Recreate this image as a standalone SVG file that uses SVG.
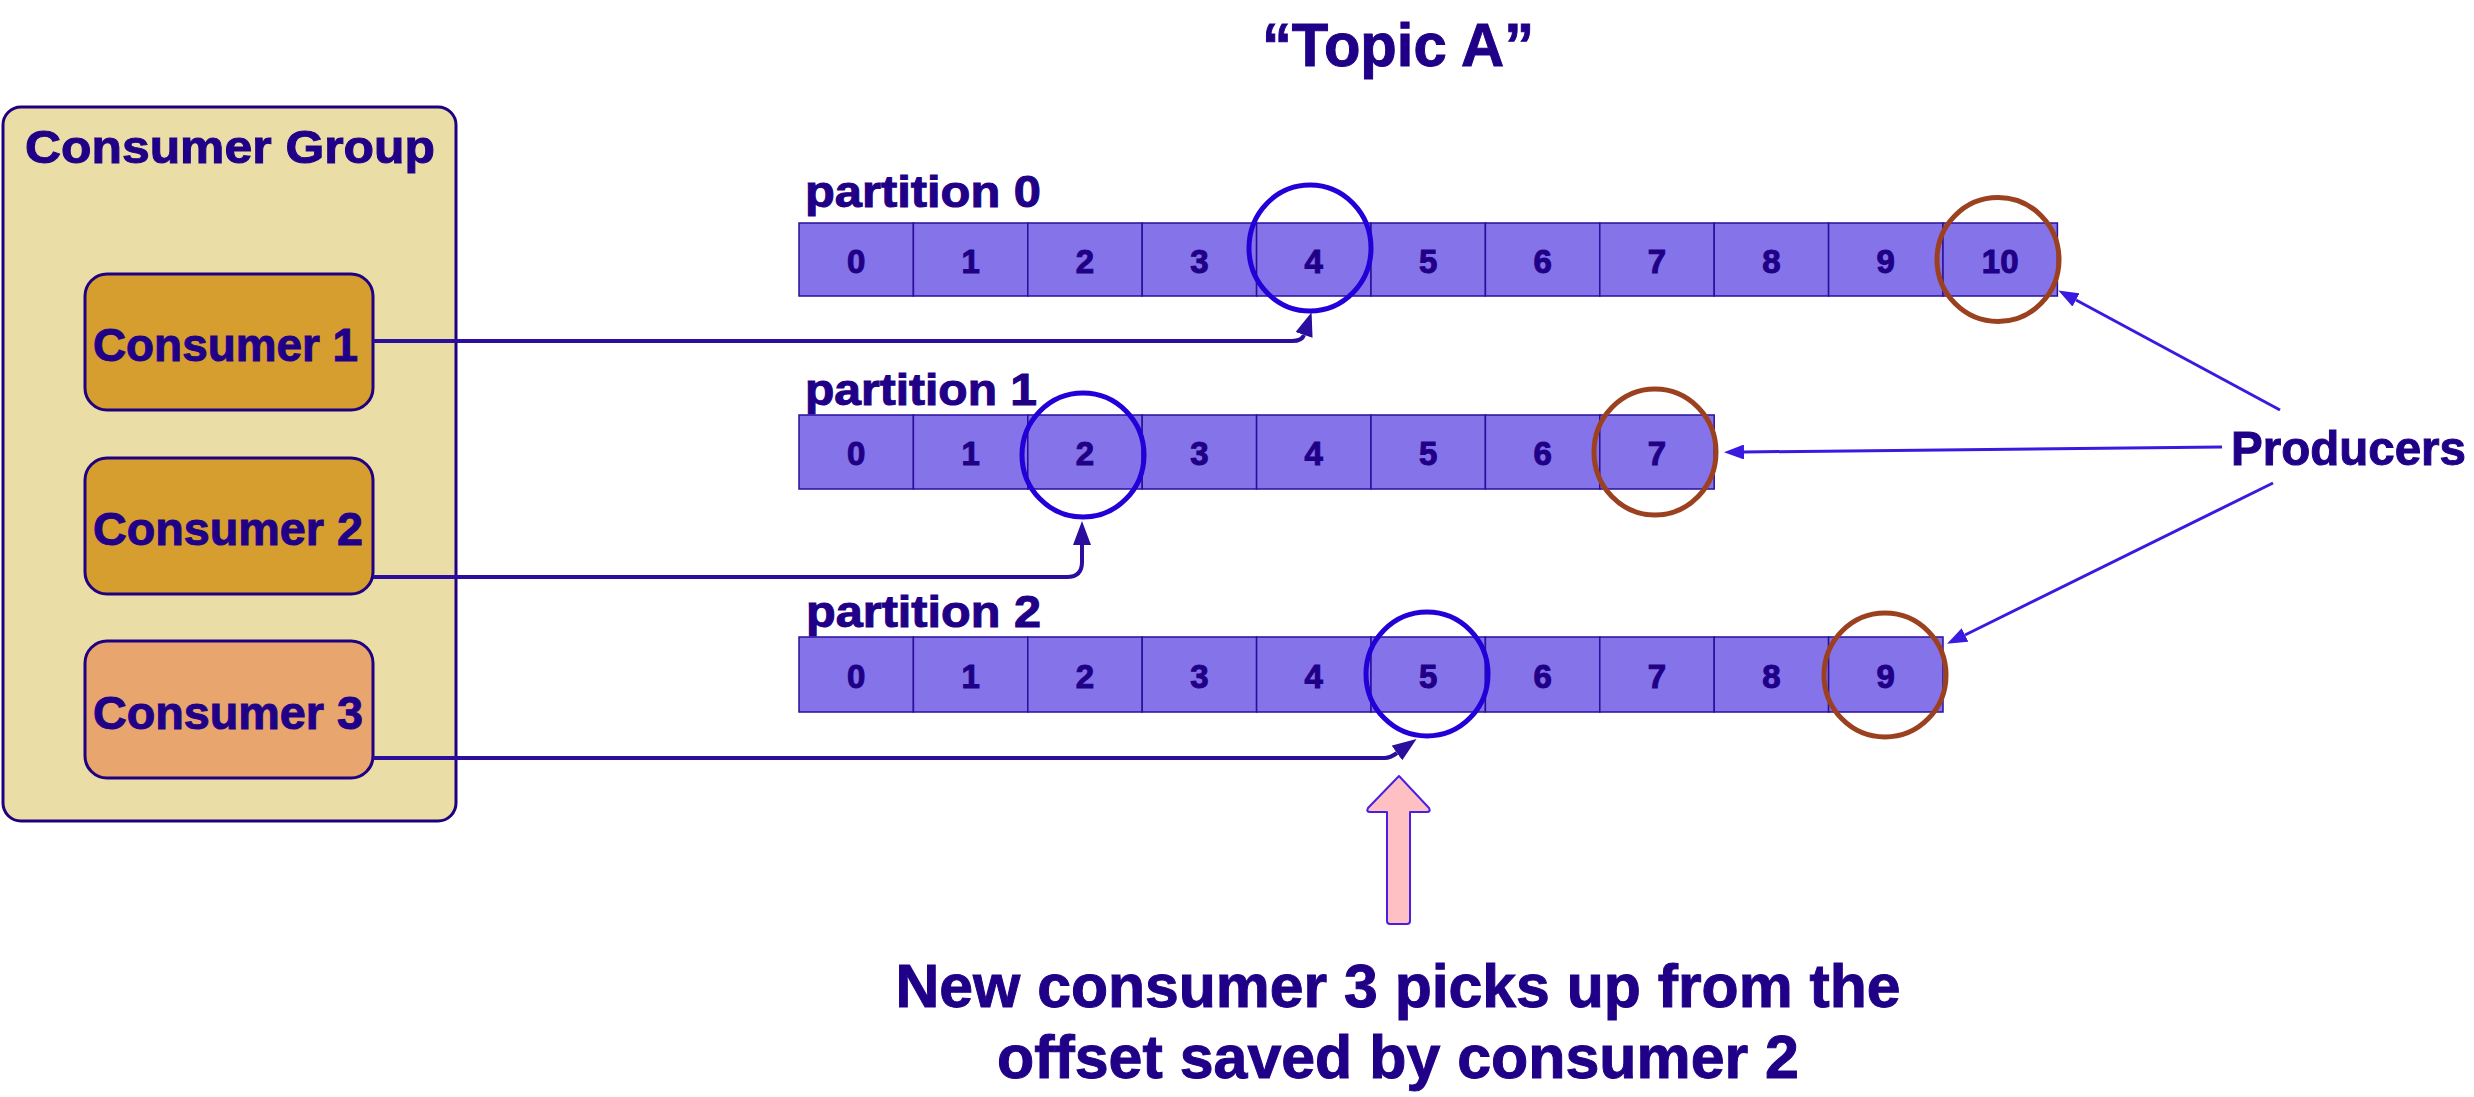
<svg xmlns="http://www.w3.org/2000/svg" width="2474" height="1097" viewBox="0 0 2474 1097">
<style>
  text { font-family: "Liberation Sans", Arial, sans-serif; font-weight: bold; fill: #1F0087; stroke: #1F0087; stroke-width: 1; }
  .grp { fill: #EBDDA6; stroke: #1F0080; stroke-width: 3; }
  .cons { fill: #D69E2E; stroke: #1F0080; stroke-width: 3; }
  .cons3 { fill: #E8A56E; stroke: #1F0080; stroke-width: 3; }
  .cell { fill: #8573EA; stroke: #2A0F9C; stroke-width: 1.5; }
  .num { font-size: 33px; text-anchor: middle; }
  .plabel { font-size: 44px; }
  .off { fill: none; stroke: #2300D8; stroke-width: 5; }
  .end { fill: none; stroke: #9C4120; stroke-width: 5; }
  .cline { fill: none; stroke: #2B0E9E; stroke-width: 4; }
  .pline { fill: none; stroke: #3A1AE0; stroke-width: 3; }
</style>
<defs>
  <marker id="ahC" markerUnits="userSpaceOnUse" markerWidth="24" markerHeight="18" refX="0" refY="9" orient="auto" viewBox="0 0 24 18">
    <path d="M0,0 L24,9 L0,18 z" fill="#2B0E9E"/>
  </marker>
  <marker id="ahP" markerUnits="userSpaceOnUse" markerWidth="20" markerHeight="15" refX="0" refY="7.5" orient="auto" viewBox="0 0 20 15">
    <path d="M0,0 L20,7.5 L0,15 z" fill="#3A1AE0"/>
  </marker>
</defs>

<text x="1398" y="66" font-size="62" text-anchor="middle" textLength="272" lengthAdjust="spacingAndGlyphs">“Topic A”</text>

<g id="consumer-group">
  <rect class="grp" x="3" y="107" width="453" height="714" rx="18"/>
  <text x="25" y="163" font-size="47" textLength="410" lengthAdjust="spacingAndGlyphs">Consumer Group</text>
</g>
<g id="consumer-1">
  <rect class="cons" x="85" y="274" width="288" height="136" rx="22"/>
  <text x="93" y="361" font-size="47" textLength="265" lengthAdjust="spacingAndGlyphs">Consumer 1</text>
</g>
<g id="consumer-2">
  <rect class="cons" x="85" y="458" width="288" height="136" rx="22"/>
  <text x="93" y="545" font-size="47" textLength="270" lengthAdjust="spacingAndGlyphs">Consumer 2</text>
</g>
<g id="consumer-3">
  <rect class="cons3" x="85" y="641" width="288" height="137" rx="22"/>
  <text x="93" y="729" font-size="47" textLength="270" lengthAdjust="spacingAndGlyphs">Consumer 3</text>
</g>

<g id="partition-0">
  <text class="plabel" x="805" y="207" textLength="236" lengthAdjust="spacingAndGlyphs">partition 0</text>
  <rect class="cell" x="799" y="223" width="114.4" height="73"/>
  <rect class="cell" x="913.4" y="223" width="114.4" height="73"/>
  <rect class="cell" x="1027.8" y="223" width="114.4" height="73"/>
  <rect class="cell" x="1142.2" y="223" width="114.4" height="73"/>
  <rect class="cell" x="1256.6" y="223" width="114.4" height="73"/>
  <rect class="cell" x="1371" y="223" width="114.4" height="73"/>
  <rect class="cell" x="1485.4" y="223" width="114.4" height="73"/>
  <rect class="cell" x="1599.8" y="223" width="114.4" height="73"/>
  <rect class="cell" x="1714.2" y="223" width="114.4" height="73"/>
  <rect class="cell" x="1828.6" y="223" width="114.4" height="73"/>
  <rect class="cell" x="1943" y="223" width="114.4" height="73"/>
  <text class="num" x="856.2" y="273">0</text>
  <text class="num" x="970.6" y="273">1</text>
  <text class="num" x="1085" y="273">2</text>
  <text class="num" x="1199.4" y="273">3</text>
  <text class="num" x="1313.8" y="273">4</text>
  <text class="num" x="1428.2" y="273">5</text>
  <text class="num" x="1542.6" y="273">6</text>
  <text class="num" x="1657" y="273">7</text>
  <text class="num" x="1771.4" y="273">8</text>
  <text class="num" x="1885.8" y="273">9</text>
  <text class="num" x="2000.2" y="273">10</text>
</g>

<g id="partition-1">
  <text class="plabel" x="805" y="405" textLength="232" lengthAdjust="spacingAndGlyphs">partition 1</text>
  <rect class="cell" x="799" y="415" width="114.4" height="74"/>
  <rect class="cell" x="913.4" y="415" width="114.4" height="74"/>
  <rect class="cell" x="1027.8" y="415" width="114.4" height="74"/>
  <rect class="cell" x="1142.2" y="415" width="114.4" height="74"/>
  <rect class="cell" x="1256.6" y="415" width="114.4" height="74"/>
  <rect class="cell" x="1371" y="415" width="114.4" height="74"/>
  <rect class="cell" x="1485.4" y="415" width="114.4" height="74"/>
  <rect class="cell" x="1599.8" y="415" width="114.4" height="74"/>
  <text class="num" x="856.2" y="465">0</text>
  <text class="num" x="970.6" y="465">1</text>
  <text class="num" x="1085" y="465">2</text>
  <text class="num" x="1199.4" y="465">3</text>
  <text class="num" x="1313.8" y="465">4</text>
  <text class="num" x="1428.2" y="465">5</text>
  <text class="num" x="1542.6" y="465">6</text>
  <text class="num" x="1657" y="465">7</text>
</g>

<g id="partition-2">
  <text class="plabel" x="806" y="627" textLength="235" lengthAdjust="spacingAndGlyphs">partition 2</text>
  <rect class="cell" x="799" y="637" width="114.4" height="75"/>
  <rect class="cell" x="913.4" y="637" width="114.4" height="75"/>
  <rect class="cell" x="1027.8" y="637" width="114.4" height="75"/>
  <rect class="cell" x="1142.2" y="637" width="114.4" height="75"/>
  <rect class="cell" x="1256.6" y="637" width="114.4" height="75"/>
  <rect class="cell" x="1371" y="637" width="114.4" height="75"/>
  <rect class="cell" x="1485.4" y="637" width="114.4" height="75"/>
  <rect class="cell" x="1599.8" y="637" width="114.4" height="75"/>
  <rect class="cell" x="1714.2" y="637" width="114.4" height="75"/>
  <rect class="cell" x="1828.6" y="637" width="114.4" height="75"/>
  <text class="num" x="856.2" y="688">0</text>
  <text class="num" x="970.6" y="688">1</text>
  <text class="num" x="1085" y="688">2</text>
  <text class="num" x="1199.4" y="688">3</text>
  <text class="num" x="1313.8" y="688">4</text>
  <text class="num" x="1428.2" y="688">5</text>
  <text class="num" x="1542.6" y="688">6</text>
  <text class="num" x="1657" y="688">7</text>
  <text class="num" x="1771.4" y="688">8</text>
  <text class="num" x="1885.8" y="688">9</text>
</g>

<g id="offset-marks">
  <ellipse class="off" cx="1310" cy="248" rx="61" ry="63"/>
  <ellipse class="off" cx="1083" cy="455" rx="61" ry="62"/>
  <ellipse class="off" cx="1427" cy="674" rx="61" ry="62"/>
  <ellipse class="end" cx="1998" cy="259.5" rx="61" ry="62"/>
  <ellipse class="end" cx="1655" cy="452" rx="61" ry="63"/>
  <ellipse class="end" cx="1885" cy="675" rx="61" ry="62"/>
</g>

<g id="producers">
  <text x="2231" y="465" font-size="49" textLength="235" lengthAdjust="spacingAndGlyphs">Producers</text>
</g>

<g id="connectors">
  <path class="cline" d="M373,341 H1292 Q1302,341 1304,335" marker-end="url(#ahC)"/>
  <path class="cline" d="M373,577 H1067 Q1082,577 1082,562 V545" marker-end="url(#ahC)"/>
  <path class="cline" d="M373,758 H1385 Q1390,758 1397,753" marker-end="url(#ahC)"/>
  <path class="pline" d="M2280,410 L2076,300" marker-end="url(#ahP)"/>
  <path class="pline" d="M2222,447 L1744,452" marker-end="url(#ahP)"/>
  <path class="pline" d="M2273,483 L1965,635" marker-end="url(#ahP)"/>
</g>

<g id="callout">
  <path d="M1399,776 L1429,808 Q1431,812 1427,812 L1410,812 L1410,921 Q1410,924 1407,924 L1390,924 Q1387,924 1387,921 L1387,812 L1370,812 Q1366,812 1368,808 Z" fill="#FFC0C4" stroke="#4B1FE0" stroke-width="2" stroke-linejoin="round"/>
  <text x="1398" y="1007" font-size="61" text-anchor="middle" textLength="1005" lengthAdjust="spacingAndGlyphs">New consumer 3 picks up from the</text>
  <text x="1398" y="1078" font-size="61" text-anchor="middle" textLength="802" lengthAdjust="spacingAndGlyphs">offset saved by consumer 2</text>
</g>
</svg>
